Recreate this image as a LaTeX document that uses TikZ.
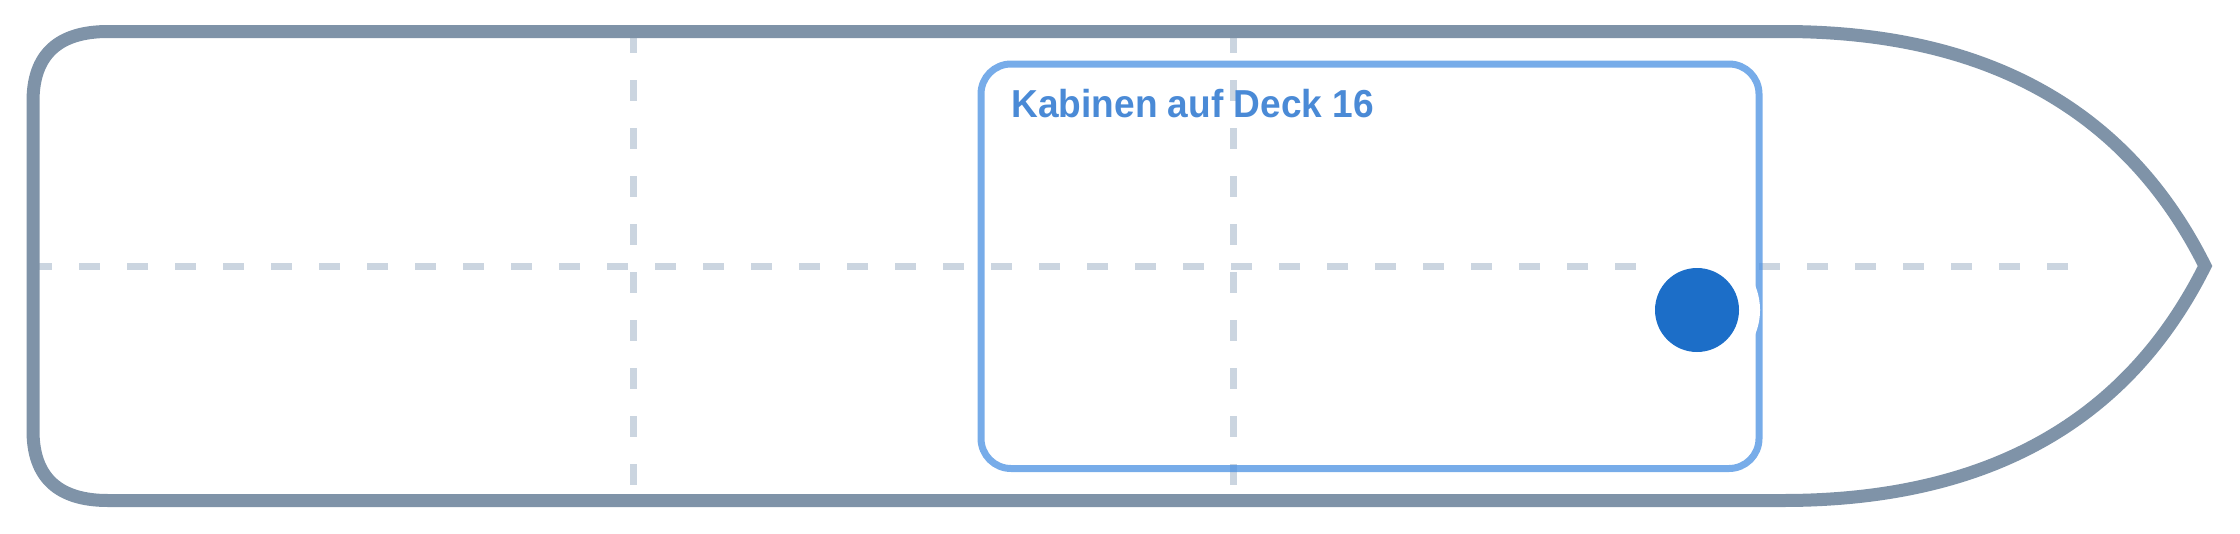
\documentclass[tikz,border=0pt]{standalone}
\usepackage{fontspec}
\setmainfont{Liberation Sans}
\newfontfamily\labelfont[FakeStretch=0.95]{Liberation Sans}
\definecolor{hull}{HTML}{7F93A8}
\definecolor{gridc}{HTML}{CBD5E0}
\definecolor{zone}{HTML}{4A90E2}
\definecolor{zonetext}{HTML}{4A8AD6}
\definecolor{marker}{HTML}{1C6EC8}
\begin{document}
\begin{tikzpicture}[x=1pt,y=-1pt,
  hullline/.style={draw=hull,line width=13pt,line join=miter},
  gridline/.style={draw=gridc,line width=7pt,dash pattern=on 21pt off 27pt},
  zonebox/.style={draw=zone,draw opacity=0.75,line width=7pt,rounded corners=30pt,
    minimum width=778pt,minimum height=404.5pt,inner sep=0pt},
  zonelabel/.style={text=zonetext,font=\labelfont\bfseries\fontsize{39}{42}\selectfont,
    anchor=base west,inner sep=0pt},
  halo/.style={circle,fill=white,minimum size=126pt,inner sep=0pt},
  dot/.style={circle,fill=marker,minimum size=84pt,inner sep=0pt}]
\useasboundingbox (0,0) rectangle (2240,533);
% grid
\coordinate (hl) at (31,266);
\coordinate (hr) at (2070,266);
\coordinate (v1t) at (633,32);
\coordinate (v1b) at (633,500);
\coordinate (v2t) at (1233,32);
\coordinate (v2b) at (1233,500);
\draw[gridline] (hl) -- (hr);
\draw[gridline] (v1t) -- (v1b);
\draw[gridline] (v2t) -- (v2b);
% hull
\draw[hullline] (108,31.5) -- (1783,31.5)
  .. controls (1986.3,31.5) and (2127,109.7) .. (2205,266)
  .. controls (2127,422.3) and (1986.3,500.5) .. (1783,500.5)
  -- (108,500.5)
  .. controls (58,500.5) and (33,477.2) .. (33,430.5)
  -- (33,101.5)
  .. controls (33,54.8) and (58,31.5) .. cycle;
% zone
\node[zonebox] (zone) at (1370,266.25) {};
\node[zonelabel] (lbl) at (1011.3,117) {Kabinen auf Deck 16};
\node[halo] (halo) at (1697,310) {};
\node[dot] (pos) at (1697,310) {};
\end{tikzpicture}
\end{document}
